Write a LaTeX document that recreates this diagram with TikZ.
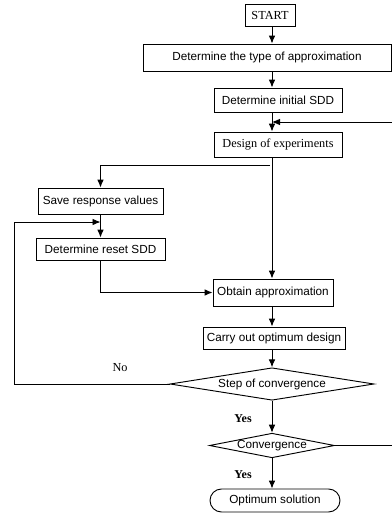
\documentclass[tikz,border=0pt]{standalone}
\usepackage{fontspec}
\setmainfont{Liberation Serif}
\setsansfont{Liberation Sans}
\usetikzlibrary{arrows.meta,shapes.geometric}

\begin{document}
\begin{tikzpicture}[x=0.75pt,y=-0.75pt]
		\tikzset{
			basefont/.style = {font = \fontsize{8.8}{10}\selectfont\sffamily},
			seriffont/.style = {font = \fontsize{9.2}{10}\selectfont\rmfamily},
			answer/.style = {font = \fontsize{9}{10}\selectfont\rmfamily\bfseries},
			stepbox/.style = {basefont, draw, line width = 0.7pt, inner sep = 0pt},
			serifbox/.style = {stepbox, seriffont},
			decision/.style = {stepbox, diamond, aspect = 5},
			terminal/.style = {stepbox, rounded corners = 8.6pt},
			flow/.style = {line width = 0.7pt, -{Latex[length = 6pt, width = 5pt]}},
		};

		\useasboundingbox (0,0) rectangle (392,514);

		\node[serifbox, minimum width = 37.5pt, minimum height = 16.5pt] (start) at (270,15) {START};
		\node[stepbox, minimum width = 186pt, minimum height = 20.25pt] (type) at (267,57.5) {Determine the type of approximation};
		\node[stepbox, minimum width = 96pt, minimum height = 18pt] (init) at (278,100) {Determine initial SDD};
		\node[serifbox, minimum width = 96pt, minimum height = 18.75pt] (design) at (278,144.5) {Design of experiments};
		\node[stepbox, minimum width = 93.75pt, minimum height = 19.5pt] (save) at (100.5,201) {Save response values};
		\node[stepbox, minimum width = 96.75pt, minimum height = 16.5pt] (reset) at (100.5,249) {Determine reset SDD};
		\node[stepbox, minimum width = 90pt, minimum height = 20.25pt] (obtain) at (273,292.5) {Obtain approximation};
		\node[stepbox, minimum width = 106.5pt, minimum height = 16.5pt] (carry) at (274,338) {Carry out optimum design};
		\node[decision, minimum width = 153pt, minimum height = 24pt] (stepconv) at (272,384) {Step of convergence};
		\node[decision, minimum width = 93.75pt, minimum height = 17.25pt] (conv) at (272,445.5) {Convergence};
		\node[terminal, minimum width = 97.5pt, minimum height = 17.25pt] (opt) at (275,500.5) {Optimum solution};

		\node[seriffont] (no) at (120,368) {No};
		\node[answer] (yes1) at (243,419) {Yes};
		\node[answer] (yes2) at (243,475) {Yes};

		\coordinate (col) at (272,0);
		\coordinate (split) at (270,165);
		\coordinate (nofoot) at (14,384);
		\coordinate (nohead) at (14,222);
		\coordinate (retfoot) at (393,445.5);
		\coordinate (rethead) at (393,122);

		\draw[flow] (start.south -| col) -- (type.north -| col);
		\draw[flow] (type.south -| col) -- (init.north -| col);
		\draw[flow] (init.south -| col) -- (design.north -| col);
		\draw[flow] (design.south -| col) -- (obtain.north -| col);
		\draw[flow] (split) -| (save.north);
		\draw[flow] (save) -- (reset);
		\draw[flow] (reset.south) |- (obtain.west);
		\draw[flow] (obtain.south -| col) -- (carry.north -| col);
		\draw[flow] (carry.south -| col) -- (stepconv.north);
		\draw[flow] (stepconv.south) -- (conv.north);
		\draw[flow] (conv.south) -- (opt.north -| col);
		\draw[flow] (stepconv.west) -- (nofoot) -- (nohead) -- (nohead -| save.south);
		\draw[flow] (conv.east) -- (retfoot) -- (rethead) -- (rethead -| col);
	\end{tikzpicture}
\end{document}
